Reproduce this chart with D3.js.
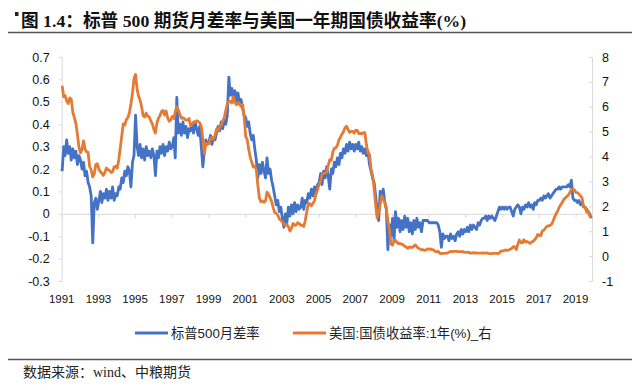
<!DOCTYPE html>
<html>
<head>
<meta charset="utf-8">
<script src="https://cdn.jsdelivr.net/npm/d3@7"></script>
<style>
  body { margin: 0; background: #fff; }
  svg { display: block; }
</style>
</head>
<body>
<div id="chart"></div>
<script>
var svgWidth = 640;
var svgHeight = 390;

// monthly points, Jan 1991 .. Nov 2019
var startYear = 1991;

// 标普500月差率 (left axis)
var spread = [
  0.19, 0.30, 0.26, 0.33, 0.27, 0.30, 0.24, 0.29, 0.25, 0.28, 0.22, 0.26,
  0.24, 0.20, 0.23, 0.17, 0.19, 0.14, 0.12, 0.08, -0.13, 0.05, 0.07, 0.02,
  0.06, 0.10, 0.05, 0.09, 0.07, 0.11, 0.06, 0.10, 0.07, 0.12, 0.06, 0.09,
  0.08, 0.12, 0.11, 0.16, 0.14, 0.19, 0.17, 0.21, 0.19, 0.12, 0.23, 0.26,
  0.44, 0.30, 0.26, 0.31, 0.25, 0.29, 0.24, 0.30, 0.26, 0.28, 0.25, 0.29,
  0.26, 0.17, 0.28, 0.25, 0.30, 0.27, 0.31, 0.26, 0.30, 0.28, 0.32, 0.29,
  0.30, 0.34, 0.25, 0.52, 0.36, 0.40, 0.35, 0.41, 0.36, 0.39, 0.34, 0.38,
  0.37, 0.40, 0.36, 0.41, 0.38, 0.35, 0.39, 0.30, 0.21, 0.28, 0.33, 0.31,
  0.32, 0.35, 0.31, 0.34, 0.33, 0.36, 0.39, 0.37, 0.41, 0.38, 0.42, 0.40,
  0.44, 0.61, 0.53, 0.56, 0.51, 0.55, 0.50, 0.54, 0.49, 0.51, 0.47, 0.44,
  0.43, 0.39, 0.41, 0.36, 0.33, 0.35, 0.29, 0.24, 0.16, 0.22, 0.18, 0.23,
  0.19, 0.16, 0.25, 0.18, 0.20, 0.15, 0.12, 0.08, 0.04, 0.06, 0.01, 0.03,
  -0.02, -0.06, 0.00, -0.04, 0.03, -0.01, 0.04, 0.00, 0.05, 0.01, 0.04, 0.02,
  0.03, 0.07, 0.02, 0.06, 0.05, 0.09, 0.07, 0.11, 0.08, 0.12, 0.09, 0.13,
  0.14, 0.18, 0.13, 0.19, 0.16, 0.21, 0.17, 0.11, 0.20, 0.18, 0.23, 0.21,
  0.25, 0.22, 0.27, 0.25, 0.29, 0.27, 0.31, 0.28, 0.32, 0.29, 0.31, 0.28,
  0.31, 0.29, 0.32, 0.28, 0.30, 0.27, 0.29, 0.26, 0.28, 0.22, 0.19, 0.16,
  0.14, 0.08, 0.02, -0.03, 0.10, 0.07, 0.11, 0.05, 0.02, -0.16, -0.05, -0.10,
  -0.02, -0.12, 0.01, -0.06, -0.02, -0.08, -0.03, -0.07, -0.01, -0.06, -0.02, -0.08,
  -0.04, -0.09, -0.03, -0.07, -0.02, -0.06, -0.04, -0.08, -0.03, -0.03, -0.03, -0.03,
  -0.04, -0.04, -0.04, -0.04, -0.04, -0.04, -0.05, -0.08, -0.15, -0.09, -0.11, -0.10,
  -0.10, -0.12, -0.09, -0.11, -0.10, -0.12, -0.09, -0.08, -0.10, -0.07, -0.09, -0.07,
  -0.08, -0.06, -0.08, -0.05, -0.07, -0.05, -0.06, -0.07, -0.04, -0.05, -0.03, -0.02,
  -0.02, -0.01, -0.03, -0.01, -0.02, -0.01, -0.02, -0.03, -0.01, 0.01, 0.03, 0.02,
  0.03, 0.02, 0.03, 0.02, 0.03, 0.03, 0.01, -0.01, 0.02, 0.03, 0.04, 0.03,
  0.00, 0.03, 0.02, 0.04, 0.03, 0.05, 0.03, 0.04, 0.02, 0.05, 0.04, 0.06,
  0.06, 0.07, 0.06, 0.08, 0.07, 0.08, 0.09, 0.07, 0.08, 0.09, 0.10, 0.11,
  0.11, 0.12, 0.11, 0.12, 0.12, 0.12, 0.12, 0.13, 0.12, 0.15, 0.07, 0.06,
  0.06, 0.05, 0.06, 0.04, 0.05, 0.03, 0.03, 0.02, 0.01, 0.00, -0.02
];

// 美国:国债收益率:1年(%) (right axis)
var yield1y = [
  6.85, 6.40, 6.45, 6.24, 6.13, 6.36, 6.31, 5.78, 5.57, 5.33, 4.89, 4.38,
  4.15, 4.29, 4.63, 4.30, 4.19, 4.17, 3.60, 3.47, 3.18, 3.30, 3.68, 3.71,
  3.50, 3.39, 3.33, 3.24, 3.36, 3.54, 3.47, 3.44, 3.36, 3.39, 3.58, 3.61,
  3.54, 3.87, 4.32, 4.82, 5.31, 5.27, 5.48, 5.56, 5.76, 6.11, 6.54, 7.14,
  7.30, 6.70, 6.43, 6.27, 6.00, 5.64, 5.59, 5.75, 5.62, 5.59, 5.43, 5.31,
  5.09, 4.94, 5.34, 5.54, 5.64, 5.81, 5.85, 5.67, 5.83, 5.55, 5.42, 5.47,
  5.61, 5.53, 5.80, 5.99, 5.87, 5.69, 5.54, 5.56, 5.52, 5.46, 5.46, 5.53,
  5.24, 5.31, 5.39, 5.38, 5.44, 5.41, 5.36, 5.21, 4.71, 4.12, 4.53, 4.52,
  4.51, 4.70, 4.78, 4.69, 4.85, 5.10, 5.03, 5.20, 5.25, 5.43, 5.55, 5.84,
  6.12, 6.22, 6.22, 6.15, 6.40, 6.17, 6.08, 6.18, 6.13, 6.01, 6.09, 5.60,
  4.81, 4.68, 4.30, 3.98, 3.78, 3.58, 3.62, 3.47, 2.82, 2.33, 2.18, 2.22,
  2.16, 2.23, 2.57, 2.48, 2.35, 2.20, 1.96, 1.76, 1.72, 1.65, 1.49, 1.45,
  1.36, 1.30, 1.24, 1.27, 1.18, 1.01, 1.12, 1.31, 1.24, 1.25, 1.34, 1.31,
  1.24, 1.24, 1.19, 1.43, 1.78, 2.12, 2.10, 2.02, 2.12, 2.23, 2.50, 2.67,
  2.86, 3.03, 3.30, 3.32, 3.33, 3.36, 3.64, 3.87, 3.85, 4.18, 4.33, 4.35,
  4.45, 4.68, 4.77, 4.90, 5.00, 5.16, 5.22, 5.08, 4.97, 5.01, 5.01, 4.94,
  5.06, 5.05, 4.92, 4.93, 4.91, 4.96, 4.96, 4.47, 4.14, 4.10, 3.50, 3.26,
  2.71, 2.05, 1.54, 1.74, 2.06, 2.42, 2.28, 2.18, 1.91, 1.42, 1.07, 0.49,
  0.44, 0.62, 0.64, 0.55, 0.50, 0.51, 0.48, 0.46, 0.40, 0.37, 0.31, 0.37,
  0.35, 0.35, 0.40, 0.45, 0.37, 0.32, 0.29, 0.26, 0.26, 0.23, 0.25, 0.29,
  0.27, 0.29, 0.26, 0.25, 0.19, 0.18, 0.19, 0.11, 0.10, 0.11, 0.11, 0.12,
  0.12, 0.16, 0.19, 0.18, 0.19, 0.19, 0.19, 0.18, 0.18, 0.18, 0.18, 0.16,
  0.15, 0.16, 0.15, 0.12, 0.12, 0.14, 0.12, 0.13, 0.12, 0.12, 0.12, 0.13,
  0.12, 0.12, 0.13, 0.11, 0.10, 0.10, 0.11, 0.11, 0.11, 0.10, 0.13, 0.21,
  0.20, 0.22, 0.25, 0.23, 0.24, 0.28, 0.30, 0.38, 0.37, 0.26, 0.48, 0.65,
  0.54, 0.53, 0.66, 0.56, 0.59, 0.55, 0.51, 0.57, 0.59, 0.66, 0.74, 0.87,
  0.83, 0.82, 1.01, 1.04, 1.12, 1.20, 1.22, 1.23, 1.28, 1.40, 1.56, 1.70,
  1.80, 1.96, 2.06, 2.15, 2.27, 2.33, 2.39, 2.45, 2.56, 2.65, 2.70, 2.66,
  2.56, 2.55, 2.49, 2.42, 2.34, 2.00, 1.96, 1.77, 1.80, 1.61, 1.57
];

var yearLabels = [1991, 1993, 1995, 1997, 1999, 2001, 2003, 2005, 2007, 2009, 2011, 2013, 2015, 2017, 2019];
var leftTicks = [-0.3, -0.2, -0.1, 0, 0.1, 0.2, 0.3, 0.4, 0.5, 0.6, 0.7];
var rightTicks = [-1, 0, 1, 2, 3, 4, 5, 6, 7, 8];
var seriesNames = ["标普500月差率", "美国:国债收益率:1年(%)_右"];
var colors = ["#4472C4", "#E57A32"];

var plot = { left: 61.7, right: 592, top: 57, bottom: 281 };

var svg = d3.select("#chart")
  .append("svg")
  .attr("width", svgWidth)
  .attr("height", svgHeight);

// title
svg.append("rect")
  .attr("x", 15).attr("y", 12)
  .attr("width", 3.5).attr("height", 4)
  .attr("fill", "#222");

svg.append("text")
  .attr("x", 21)
  .attr("y", 27)
  .attr("font-family", "'Liberation Serif', 'Noto Sans CJK SC', serif")
  .attr("font-weight", "bold")
  .attr("font-size", "17.7px")
  .attr("fill", "#111")
  .text("图 1.4：标普 500 期货月差率与美国一年期国债收益率(%)");

svg.append("line")
  .attr("x1", 8).attr("x2", 632)
  .attr("y1", 32.5).attr("y2", 32.5)
  .attr("stroke", "#555")
  .attr("stroke-width", 1.5);

// scales
var dates = spread.map(function(d, i) { return new Date(startYear, i, 10); });

var xScale = d3.scaleTime()
  .domain([new Date(startYear, 0, 1), new Date(2019, 10, 25)])
  .range([plot.left, plot.right]);

var yLeft = d3.scaleLinear()
  .domain([-0.3, 0.7])
  .range([plot.bottom, plot.top]);

var yRight = d3.scaleLinear()
  .domain([-1, 8])
  .range([plot.bottom, plot.top]);

var axisColor = "#d9d9d9";

// left axis
var leftAxis = svg.append("g")
  .attr("transform", "translate(" + plot.left + ",0)")
  .call(d3.axisLeft(yLeft)
    .tickValues(leftTicks)
    .tickSize(3)
    .tickPadding(9)
    .tickFormat(function(d) { return d === 0 ? "0" : d.toFixed(1); }));

// right axis
var rightAxis = svg.append("g")
  .attr("transform", "translate(" + plot.right + ",0)")
  .call(d3.axisRight(yRight)
    .tickValues(rightTicks)
    .tickSizeInner(-3)
    .tickSizeOuter(0)
    .tickPadding(10)
    .tickFormat(function(d) { return String(d); }));

[leftAxis, rightAxis].forEach(function(g) {
  g.select(".domain").attr("stroke", axisColor);
  g.selectAll(".tick line").attr("stroke", axisColor);
  g.selectAll("text")
    .attr("fill", "#111")
    .attr("font-family", "'Liberation Sans', Arial, sans-serif")
    .attr("font-size", "12.5px");
});

// x axis sits on the zero line
var xTickDates = yearLabels.map(function(y) { return new Date(y, 0, 1); });

var xAxis = svg.append("g")
  .attr("transform", "translate(0," + yLeft(0) + ")")
  .call(d3.axisBottom(xScale)
    .tickValues(xTickDates)
    .tickSizeInner(4)
    .tickSizeOuter(0)
    .tickFormat(""));
xAxis.select(".domain").attr("stroke", axisColor);
xAxis.selectAll(".tick line").attr("stroke", axisColor);

svg.append("g")
  .selectAll("text")
  .data(yearLabels)
  .enter()
  .append("text")
  .attr("x", function(d) { return xScale(new Date(d, 0, 1)); })
  .attr("y", 303)
  .attr("text-anchor", "middle")
  .attr("font-family", "'Liberation Sans', Arial, sans-serif")
  .attr("font-size", "11.5px")
  .attr("fill", "#111")
  .text(function(d) { return d; });

// lines
var leftLine = d3.line()
  .x(function(d, i) { return xScale(dates[i]); })
  .y(function(d) { return yLeft(d); });

var rightLine = d3.line()
  .x(function(d, i) { return xScale(dates[i]); })
  .y(function(d) { return yRight(d); });

svg.append("path")
  .datum(spread)
  .attr("d", leftLine)
  .attr("fill", "none")
  .attr("stroke", colors[0])
  .attr("stroke-width", 2.8)
  .attr("stroke-linejoin", "round");

svg.append("path")
  .datum(yield1y)
  .attr("d", rightLine)
  .attr("fill", "none")
  .attr("stroke", colors[1])
  .attr("stroke-width", 2.8)
  .attr("stroke-linejoin", "round");

// legend
var legendItems = [
  { x: 135, name: seriesNames[0], color: colors[0] },
  { x: 293, name: seriesNames[1], color: colors[1] }
];

var legend = svg.append("g")
  .selectAll("g")
  .data(legendItems)
  .enter()
  .append("g")
  .attr("transform", function(d) { return "translate(" + d.x + ",333)"; });

legend.append("line")
  .attr("x1", 0).attr("x2", 33)
  .attr("y1", 0).attr("y2", 0)
  .attr("stroke", function(d) { return d.color; })
  .attr("stroke-width", 2.8);

legend.append("text")
  .attr("x", 36)
  .attr("y", 4.5)
  .attr("font-family", "'Liberation Sans', 'Noto Sans CJK SC', sans-serif")
  .attr("font-size", "13.3px")
  .attr("fill", "#222")
  .text(function(d) { return d.name; });

// source
svg.append("line")
  .attr("x1", 8).attr("x2", 632)
  .attr("y1", 359.5).attr("y2", 359.5)
  .attr("stroke", "#555")
  .attr("stroke-width", 1.5);

svg.append("text")
  .attr("x", 23)
  .attr("y", 377)
  .attr("font-family", "'Liberation Serif', 'Noto Sans CJK SC', serif")
  .attr("font-size", "14px")
  .attr("fill", "#222")
  .text("数据来源：wind、中粮期货");
</script>
</body>
</html>
